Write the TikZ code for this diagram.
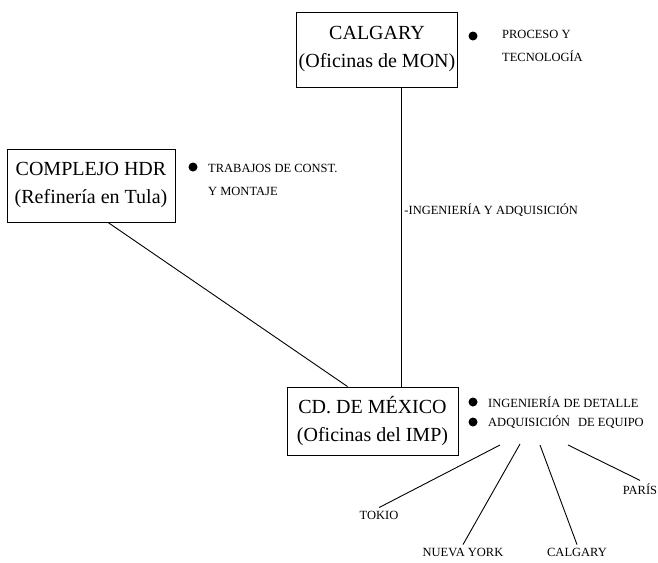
\documentclass[tikz,border=0pt]{standalone}
\usepackage{fontspec}
\setmainfont{Liberation Serif}
\usepackage{tikz}
\usetikzlibrary{positioning,calc}

\begin{document}
\begin{tikzpicture}[
    x=1pt, y=-1pt,
    box/.style={rectangle, draw, line width=0.9pt, minimum height=75pt, inner xsep=2pt,
        align=center, font=\fontsize{20}{28}\selectfont},
    dot/.style={circle, fill, inner sep=0pt, minimum size=9pt},
    item/.style={anchor=west, align=left, inner sep=3pt, font=\fontsize{12.5}{23}\selectfont},
    city/.style={inner sep=3pt, font=\fontsize{12.5}{15}\selectfont},
    link/.style={line width=0.9pt}
]
    \useasboundingbox (0,0) rectangle (658,562);

    \node[box, minimum width=160pt] (calgary) at (377,49.5) {CALGARY\\(Oficinas de MON)};
    \node[box, minimum width=168pt, minimum height=73pt] (complejo) at (91,185.5) {COMPLEJO HDR\\(Refinería en Tula)};
    \node[box, minimum width=171pt, minimum height=68pt] (mexico) at (372.5,421) {CD. DE MÉXICO\\(Oficinas del IMP)};

    \node[dot] (dotcal) at (473,36) {};
    \node[item] (proceso) at (499,46) {PROCESO Y\\TECNOLOGÍA};
    \node[dot] (dotcom) at (193,167) {};
    \node[item] (trabajos) at (205,179.5) {TRABAJOS DE CONST.\\Y MONTAJE};
    \node[dot] (dotmex) at (473,402) {};
    \node[item] (detalle) at (485,402) {INGENIERÍA DE DETALLE};
    \node[dot] (dotadq) at (473,422) {};
    \node[item] (adq) at (485,422) {ADQUISICIÓN\hspace{8pt}DE EQUIPO};

    \node[city] (tokio) at (379,515) {TOKIO};
    \node[city] (nuevayork) at (463,552) {NUEVA YORK};
    \node[city] (calgaryb) at (577,552) {CALGARY};
    \node[city] (paris) at (640,489) {PARÍS};

    \coordinate (adqa) at (500,445);
    \coordinate (adqb) at (520,444);
    \coordinate (adqc) at (540,445);
    \coordinate (adqd) at (568,445);

    \draw[link] ([xshift=24pt]calgary.south) -- node[pos=0.41, item] {-INGENIERÍA Y ADQUISICIÓN} ([xshift=28.5pt]mexico.north);
    \draw[link] ([xshift=17pt]complejo.south) -- ([xshift=-25pt]mexico.north);
    \draw[link] (adqa) -- (tokio.north);
    \draw[link] (adqb) -- (nuevayork.north);
    \draw[link] (adqc) -- (calgaryb.north);
    \draw[link] (adqd) -- (paris.north);
\end{tikzpicture}
\end{document}
